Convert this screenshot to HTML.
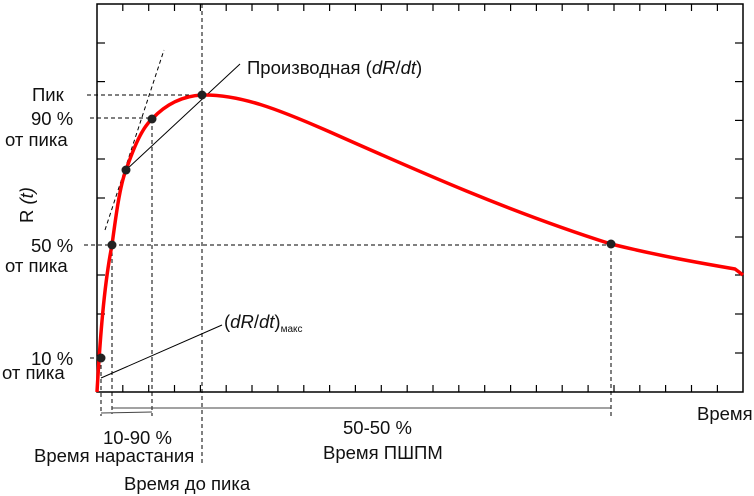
<!DOCTYPE html>
<html><head><meta charset="utf-8"><style>
body{margin:0;background:#fff}
svg{display:block;font-family:"Liberation Sans",Arial,sans-serif}
</style></head><body>
<svg width="754" height="496" viewBox="0 0 754 496" xmlns="http://www.w3.org/2000/svg">
<rect x="97" y="4" width="646" height="388" fill="none" stroke="#000" stroke-width="1.5"/>
<g stroke="#000" stroke-width="1.2">
<line x1="97" y1="43" x2="105" y2="43"/><line x1="97" y1="81.6" x2="105" y2="81.6"/><line x1="97" y1="159" x2="105" y2="159"/><line x1="97" y1="198" x2="105" y2="198"/><line x1="97" y1="275" x2="105" y2="275"/><line x1="97" y1="314" x2="105" y2="314"/>
<line x1="735" y1="43" x2="743" y2="43"/><line x1="735" y1="81.6" x2="743" y2="81.6"/><line x1="735" y1="120.4" x2="743" y2="120.4"/><line x1="735" y1="159" x2="743" y2="159"/><line x1="735" y1="198" x2="743" y2="198"/><line x1="735" y1="237" x2="743" y2="237"/><line x1="735" y1="275" x2="743" y2="275"/><line x1="735" y1="314" x2="743" y2="314"/><line x1="735" y1="353" x2="743" y2="353"/>
</g>
<g stroke="#000" stroke-width="1.2">
<path d="M122.8,392v-7M148.7,392v-7M174.5,392v-7M200.4,392v-7M226.2,392v-7M252,392v-7M277.9,392v-7M303.8,392v-7M329.6,392v-7M355.4,392v-7M381.3,392v-7M407.2,392v-7M433,392v-7M458.8,392v-7M484.7,392v-7M510.6,392v-7M536.4,392v-7M562.2,392v-7M588.1,392v-7M614,392v-7M639.8,392v-7M665.6,392v-7M691.5,392v-7M717.4,392v-7"/>
<path d="M122.8,4v7M148.7,4v7M174.5,4v7M200.4,4v7M226.2,4v7M252,4v7M277.9,4v7M303.8,4v7M329.6,4v7M355.4,4v7M381.3,4v7M407.2,4v7M433,4v7M458.8,4v7M484.7,4v7M510.6,4v7M536.4,4v7M562.2,4v7M588.1,4v7M614,4v7M639.8,4v7M665.6,4v7M691.5,4v7M717.4,4v7"/>
</g>
<g stroke="#000" stroke-width="1" stroke-dasharray="4,3" fill="none">
<line x1="87" y1="95" x2="202" y2="95"/>
<line x1="90" y1="118" x2="152" y2="118"/>
<line x1="84" y1="245" x2="611" y2="245"/>
<line x1="90" y1="358" x2="97" y2="358"/>
<line x1="202" y1="4" x2="202" y2="466"/>
<line x1="152" y1="119" x2="152" y2="416"/>
<line x1="112" y1="245" x2="112" y2="414"/>
<line x1="101" y1="358" x2="101" y2="416"/>
<line x1="611" y1="244" x2="611" y2="416"/>
<line x1="105" y1="230" x2="164" y2="50"/>
</g>
<g stroke="#000" stroke-width="1">
<line x1="112" y1="408" x2="611" y2="408" stroke="#444"/>
<line x1="101" y1="413" x2="152" y2="412" stroke="#444"/>
<line x1="126" y1="170" x2="240" y2="64"/>
<line x1="101" y1="378" x2="222" y2="325"/>
</g>
<path d="M97,392 C100,340 104,285 112,245 C116,215 120,185 126,170 C134,147 142,128 152,119 C166,104 182,96 202,95 C240,94 280,110 330,132 C420,172 510,212 611,244 C660,256 700,263 735,269 L743,275" fill="none" stroke="#f00" stroke-width="3.5"/>
<g fill="#222">
<circle cx="101" cy="358" r="4.5"/><circle cx="112" cy="245" r="4.5"/><circle cx="126" cy="170" r="4.5"/><circle cx="152" cy="119" r="4.5"/><circle cx="202" cy="95" r="4.5"/><circle cx="611" cy="244" r="4.5"/>
</g>
<g font-size="18.5" fill="#111">
<text x="32" y="101">Пик</text>
<text x="31" y="125">90 %</text>
<text x="5" y="146">от пика</text>
<text x="31" y="252">50 %</text>
<text x="5" y="272">от пика</text>
<text x="31" y="365">10 %</text>
<text x="2" y="379">от пика</text>
<text transform="translate(33,223) rotate(-90)">R <tspan font-style="italic">(t)</tspan></text>
<text x="247" y="74">Производная (<tspan font-style="italic">dR</tspan>/<tspan font-style="italic">dt</tspan>)</text>
<text x="224" y="328">(<tspan font-style="italic">dR</tspan>/<tspan font-style="italic">dt</tspan>)<tspan font-size="10" dy="4">макс</tspan></text>
<text x="697" y="420">Время</text>
<text x="103" y="444">10-90 %</text>
<text x="34" y="462">Время нарастания</text>
<text x="343" y="434">50-50 %</text>
<text x="323" y="459">Время ПШПМ</text>
<text x="124" y="490">Время до пика</text>
</g>
</svg>
</body></html>
